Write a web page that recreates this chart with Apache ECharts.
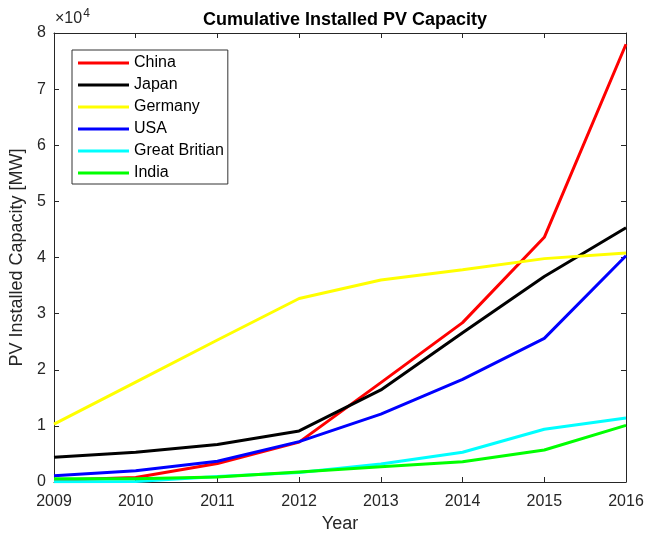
<!DOCTYPE html>
<html>
<head>
<meta charset="utf-8">
<script src="https://cdn.jsdelivr.net/npm/echarts@6/dist/echarts.min.js"></script>
<style>
html,body{margin:0;padding:0;background:#fff;}
#chart{width:648px;height:538px;}
</style>
</head>
<body>
<div id="chart"></div>
<script>
const years = [2009, 2010, 2011, 2012, 2013, 2014, 2015, 2016];
const china = [300, 800, 3300, 7100, 17700, 28400, 43600, 78000];
const japan = [4400, 5300, 6700, 9100, 16400, 26600, 36600, 45300];
const germany = [10300, 17800, 25300, 32700, 36000, 37800, 39800, 40800];
const usa = [1100, 2000, 3700, 7200, 12100, 18300, 25600, 40300];
const greatBritain = [30, 100, 1000, 1700, 3200, 5300, 9400, 11400];
const india = [600, 600, 900, 1800, 2700, 3600, 5700, 10100];
const seriesNames = ['China', 'Japan', 'Germany', 'USA', 'Great Britian', 'India'];
const seriesColors = ['#ff0000', '#000000', '#ffff00', '#0000ff', '#00ffff', '#00ff00'];
const seriesValues = [china, japan, germany, usa, greatBritain, india];

const font = 'Liberation Sans, Arial, Helvetica, sans-serif';
const axisColor = '#262626';
const chart = echarts.init(document.getElementById('chart'), null, {renderer: 'canvas'});

const baseX = {
  type: 'value', min: 2009, max: 2016, interval: 1,
  axisLine: {show: true, onZero: false, lineStyle: {color: axisColor, width: 1}},
  axisTick: {show: true, inside: true, length: 5, lineStyle: {color: axisColor}},
  splitLine: {show: false}
};
const baseY = {
  type: 'value', min: 0, max: 80000, interval: 10000,
  axisLine: {show: true, onZero: false, lineStyle: {color: axisColor, width: 1}},
  axisTick: {show: true, inside: true, length: 5, lineStyle: {color: axisColor}},
  splitLine: {show: false}
};

chart.setOption({
  animation: false,
  backgroundColor: '#fff',
  title: {
    text: 'Cumulative Installed PV Capacity',
    left: 340, top: 6, textAlign: 'center',
    textStyle: {fontFamily: font, fontSize: 18, fontWeight: 'bold', color: '#000'}
  },
  grid: {left: 54, right: 22, top: 33, bottom: 49, containLabel: false},
  legend: {
    orient: 'vertical', left: 72, top: 50,
    data: seriesNames,
    icon: 'rect', itemWidth: 51, itemHeight: 3, itemGap: 6,
    padding: [5, 4, 3, 6],
    borderColor: '#333', borderWidth: 1, backgroundColor: '#fff',
    textStyle: {fontFamily: font, fontSize: 16, lineHeight: 16, color: '#000'}
  },
  xAxis: [
    Object.assign({}, baseX, {
      position: 'bottom',
      name: 'Year', nameLocation: 'middle', nameGap: 33,
      nameTextStyle: {fontFamily: font, fontSize: 18, color: axisColor},
      axisLabel: {show: true, margin: 12, fontFamily: font, fontSize: 16, color: axisColor,
        formatter: function (v) { return String(v); }}
    }),
    Object.assign({}, baseX, {position: 'top', axisLabel: {show: false}})
  ],
  yAxis: [
    Object.assign({}, baseY, {
      position: 'left',
      name: 'PV Installed Capacity [MW]', nameLocation: 'middle', nameGap: 18,
      nameTextStyle: {fontFamily: font, fontSize: 18, color: axisColor},
      axisLabel: {show: true, margin: 8, fontFamily: font, fontSize: 16, color: axisColor,
        formatter: function (v) { return String(v / 10000); }}
    }),
    Object.assign({}, baseY, {position: 'right', axisLabel: {show: false}})
  ],
  graphic: [{
    type: 'text', left: 55, top: 8,
    style: {
      text: '{a|×10}{b|4}',
      rich: {
        a: {fontFamily: font, fontSize: 16, fill: axisColor, verticalAlign: 'bottom'},
        b: {fontFamily: font, fontSize: 12, fill: axisColor, verticalAlign: 'top', padding: [0, 0, 7, 1]}
      }
    }
  }],
  series: seriesNames.map(function (name, i) {
    return {
      name: name, type: 'line',
      xAxisIndex: 0, yAxisIndex: 0,
      data: years.map(function (y, j) { return [y, seriesValues[i][j]]; }),
      showSymbol: false, symbol: 'none',
      lineStyle: {color: seriesColors[i], width: 3},
      itemStyle: {color: seriesColors[i]},
      z: 2 + i
    };
  })
});
</script>
</body>
</html>
